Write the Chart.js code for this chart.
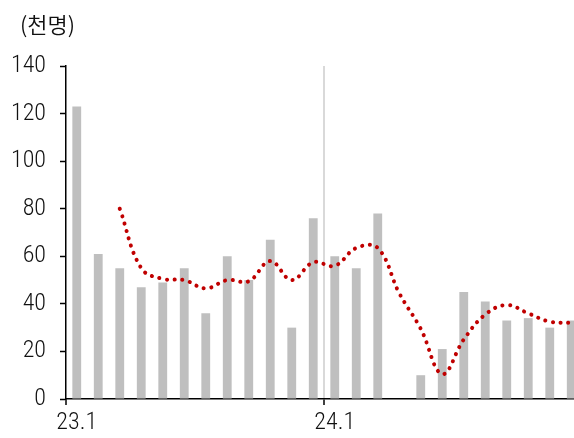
<!DOCTYPE html>
<html>
<head>
<meta charset="utf-8">
<script src="https://cdn.jsdelivr.net/npm/chart.js@4.4.1/dist/chart.umd.min.js"></script>
<style>
  html, body { margin: 0; padding: 0; background: #fff; overflow: hidden; }
  #wrap { position: relative; width: 574px; height: 438px; overflow: hidden; }
  #unit { position: absolute; left: 20px; top: 8px; font-family: "Noto Sans CJK KR", sans-serif; font-weight: 350; font-size: 22px; color: #111; line-height: 30px; }
  canvas { position: absolute; left: 0; top: 0; }
</style>
</head>
<body>
<div id="wrap">
  <canvas id="c" width="582" height="438"></canvas>
  <div id="unit">(천명)</div>
</div>
<script>
// Monthly categories, Jan 2023 – Dec 2024
const months = ['23.1','23.2','23.3','23.4','23.5','23.6','23.7','23.8','23.9','23.10','23.11','23.12',
                '24.1','24.2','24.3','24.4','24.5','24.6','24.7','24.8','24.9','24.10','24.11','24.12'];
// Only year starts carry a label
const tickLabels = ['23.1', '24.1'];
// Monthly count (thousand persons)
const monthly = [123, 61, 55, 47, 49, 55, 36, 60, 50, 67, 30, 76,
                 60, 55, 78, null, 10, 21, 45, 41, 33, 34, 30, 33];
// Smoothed trend
const trend = [null, null, 80, 55, 50.5, 50, 46.5, 50, 49.5, 58, 50, 57.5,
               56, 63.5, 63.5, 44.5, 29.5, 10.5, 25, 35.5, 39.5, 36, 32.5, 32];
const yTicks = [0, 20, 40, 60, 80, 100, 120, 140];

const numFont = { family: '"Roboto Condensed", "Noto Sans", sans-serif', size: 24, weight: 300 };

new Chart(document.getElementById('c'), {
  data: {
    labels: months,
    datasets: [
      {
        type: 'line',
        data: trend,
        order: 0,
        borderColor: '#c00000',
        borderWidth: 4,
        borderDash: [0.1, 7.6],
        borderCapStyle: 'round',
        tension: 0.4,
        pointRadius: 0,
        fill: false
      },
      {
        type: 'bar',
        data: monthly,
        order: 1,
        backgroundColor: '#bfbfbf',
        categoryPercentage: 1,
        barPercentage: 0.41
      }
    ]
  },
  options: {
    responsive: false,
    animation: false,
    layout: { padding: { top: 66, right: 0, bottom: 0, left: 0 } },
    plugins: { legend: { display: false }, tooltip: { enabled: false } },
    scales: {
      x: {
        offset: true,
        grid: {
          offset: true,
          drawOnChartArea: true,
          color: ctx => ctx.index === 12 ? '#d9d9d9' : 'rgba(0,0,0,0)',
          lineWidth: ctx => ctx.index === 12 ? 2 : 0,
          tickColor: ctx => (ctx.index === 0 || ctx.index === 12) ? '#000' : 'rgba(0,0,0,0)',
          tickWidth: 1.5,
          tickLength: 6
        },
        border: { color: '#000', width: 1.5 },
        ticks: {
          autoSkip: false,
          maxRotation: 0,
          padding: 4,
          color: '#111',
          font: numFont,
          callback: function (v, i) {
            const l = months[i];
            return tickLabels.includes(l) ? l : '';
          }
        },
        afterFit: s => { s.height = 39; }
      },
      y: {
        min: 0,
        max: 140,
        afterBuildTicks: s => { s.ticks = yTicks.map(v => ({ value: v })); },
        grid: { drawOnChartArea: false, tickColor: '#000', tickLength: 6, tickWidth: 1.5 },
        border: { color: '#000', width: 1.5 },
        ticks: { padding: 14, color: '#111', font: numFont },
        afterFit: s => { s.width = 66; }
      }
    }
  }
});
</script>
</body>
</html>
